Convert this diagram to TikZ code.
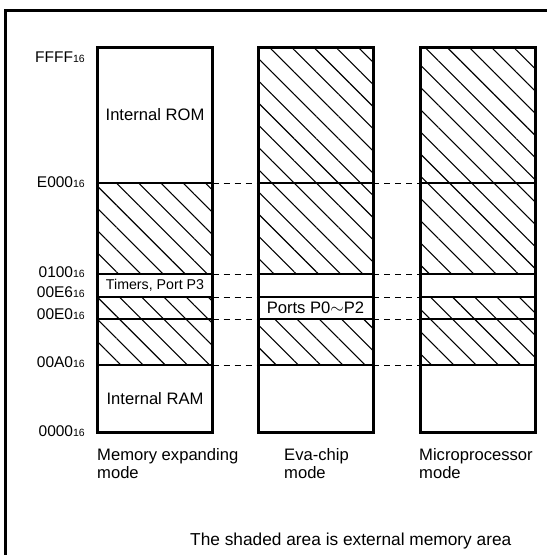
\documentclass[tikz,border=0pt]{standalone}
\usepackage{fontspec}
\setmainfont{Liberation Sans}
\usepackage{tikz}
\usetikzlibrary{patterns.meta, fit}

\newcommand{\addr}[1]{#1\raisebox{-0.6pt}{\fontsize{10.5}{12}\selectfont 16}}

\begin{document}
\begin{tikzpicture}[
    x=1pt, y=-1pt,
    font=\fontsize{16.6}{18}\selectfont,
    region/.style={rectangle, draw, line width=1.2pt, inner sep=0pt, outer sep=0pt, minimum width=115pt, align=center},
    hatched/.style={pattern={Lines[angle=-45, distance=15.7pt, line width=1.1pt]}},
    colbox/.style={rectangle, draw, line width=3pt, inner sep=0pt, outer sep=0pt},
    addrlabel/.style={anchor=base east, inner sep=0pt, font=\fontsize{15.5}{18}\selectfont},
    modelabel/.style={anchor=north west, inner sep=0pt, align=left},
    guide/.style={line width=1pt, dash pattern=on 6pt off 5pt},
    frame/.style={line width=3.5pt}
]
\useasboundingbox (0,0) rectangle (547,555);

% outer frame (cropped)
\draw[frame] (5.3,555) |- (547,10.5);

% Memory expanding mode
\node[region, minimum height=136pt] (mem-a) at (155,115) {\raisebox{-3pt}{Internal ROM}};
\node[region, hatched, minimum height=91pt] (mem-b) at (155,228.5) {};
\node[region, minimum height=23pt, font=\fontsize{14.2}{16}\selectfont] (mem-c) at (155,285.5) {Timers, Port P3};
\node[region, hatched, minimum height=22pt] (mem-d) at (155,308) {};
\node[region, hatched, minimum height=46pt] (mem-e) at (155,342) {};
\node[region, minimum height=67pt] (mem-f) at (155,398.5) {Internal RAM};
\node[colbox, fit=(mem-a)(mem-f)] (col-mem) {};

% Eva-chip mode
\node[region, hatched, minimum height=136pt] (eva-a) at (315.5,115) {};
\node[region, hatched, minimum height=91pt] (eva-b) at (315.5,228.5) {};
\node[region, minimum height=23pt] (eva-c) at (315.5,285.5) {};
\node[region, minimum height=22pt] (eva-d) at (315.5,308) {Ports P0$\sim$P2};
\node[region, hatched, minimum height=46pt] (eva-e) at (315.5,342) {};
\node[region, minimum height=67pt] (eva-f) at (315.5,398.5) {};
\node[colbox, fit=(eva-a)(eva-f)] (col-eva) {};

% Microprocessor mode
\node[region, hatched, minimum height=136pt] (mic-a) at (477.5,115) {};
\node[region, hatched, minimum height=91pt] (mic-b) at (477.5,228.5) {};
\node[region, minimum height=23pt] (mic-c) at (477.5,285.5) {};
\node[region, hatched, minimum height=22pt] (mic-d) at (477.5,308) {};
\node[region, hatched, minimum height=46pt] (mic-e) at (477.5,342) {};
\node[region, minimum height=67pt] (mic-f) at (477.5,398.5) {};
\node[colbox, fit=(mic-a)(mic-f)] (col-mic) {};

% Address labels
\node[addrlabel] (lffff) at (85,62) {\addr{FFFF}};
\node[addrlabel] (le000) at (85,187) {\addr{E000}};
\node[addrlabel] (l0100) at (85,277) {\addr{0100}};
\node[addrlabel] (l00e6) at (85,297) {\addr{00E6}};
\node[addrlabel] (l00e0) at (85,319) {\addr{00E0}};
\node[addrlabel] (l00a0) at (85,367) {\addr{00A0}};
\node[addrlabel] (l0000) at (85,436) {\addr{0000}};

% Boundary guides
\draw[guide] (mem-b.north east) -- (eva-b.north west) (eva-b.north east) -- (mic-b.north west);
\draw[guide] (mem-c.north east) -- (eva-c.north west) (eva-c.north east) -- (mic-c.north west);
\draw[guide] (mem-d.north east) -- (eva-d.north west) (eva-d.north east) -- (mic-d.north west);
\draw[guide] (mem-e.north east) -- (eva-e.north west) (eva-e.north east) -- (mic-e.north west);
\draw[guide] (mem-f.north east) -- (eva-f.north west) (eva-f.north east) -- (mic-f.north west);

% Mode captions
\node[modelabel] (cap-mem) at (97,448) {Memory expanding\\mode};
\node[modelabel] (cap-eva) at (284,448) {Eva-chip\\mode};
\node[modelabel] (cap-mic) at (419,448) {Microprocessor\\mode};

\node[anchor=base west, inner sep=0pt, font=\fontsize{17.3}{20}\selectfont] (note) at (190,545) {The shaded area is external memory area};

\end{tikzpicture}
\end{document}
